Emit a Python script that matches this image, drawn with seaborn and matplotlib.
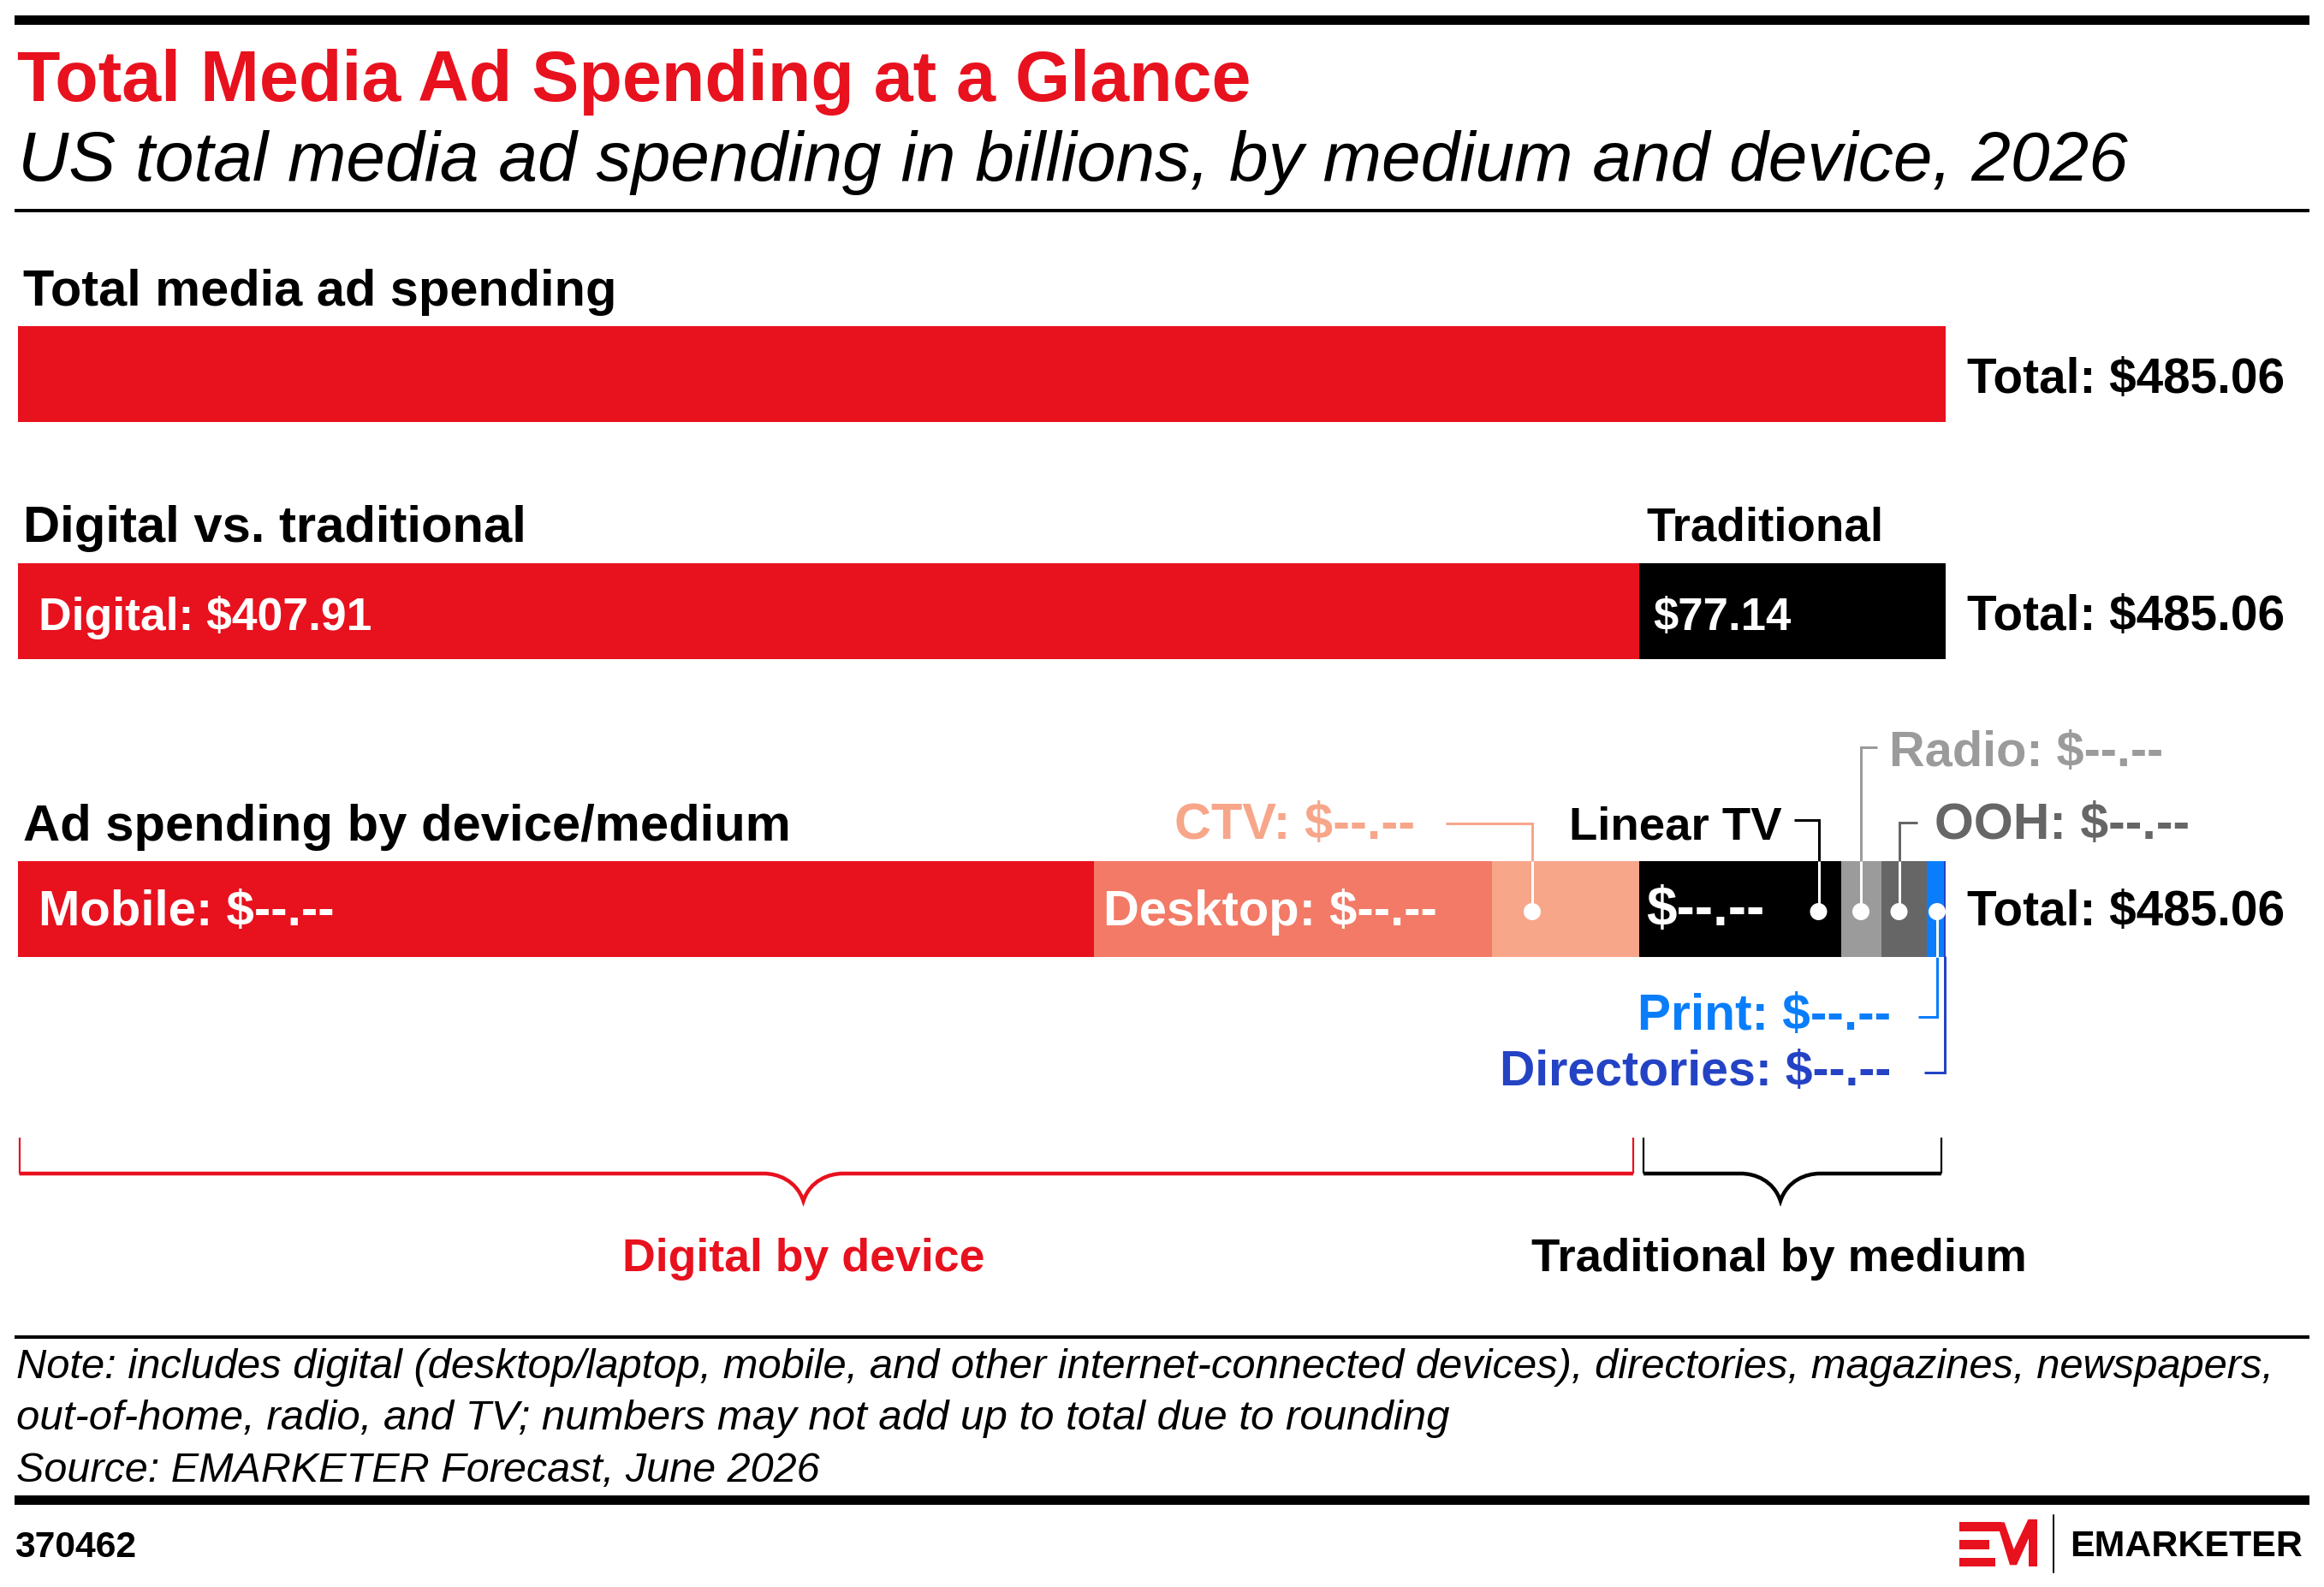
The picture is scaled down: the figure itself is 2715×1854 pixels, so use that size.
import numpy as np
import pandas as pd
import matplotlib
matplotlib.use("Agg")
import matplotlib.pyplot as plt
import seaborn as sns
from matplotlib.patches import Circle, Rectangle, Polygon, PathPatch
from matplotlib.path import Path

# ---------------- DATA ----------------
total_value = 485.06
total_segments = ["Total"]
total_values = [485.06]

dvt_segments = ["Digital", "Traditional"]
dvt_values = [407.91, 77.14]

device_segments = ["Mobile", "Desktop", "CTV", "Linear TV", "Radio", "OOH", "Print", "Directories"]
device_values = [270.75, 100.20, 36.96, 50.90, 10.00, 11.40, 4.40, 0.44]
device_value_text = ["$--.--"] * 8

row_titles = ["Total media ad spending", "Digital vs. traditional", "Ad spending by device/medium"]
title = "Total Media Ad Spending at a Glance"
subtitle = "US total media ad spending in billions, by medium and device, 2026"
note_lines = [
    "Note: includes digital (desktop/laptop, mobile, and other internet-connected devices), directories, magazines, newspapers,",
    "out-of-home, radio, and TV; numbers may not add up to total due to rounding",
    "Source: EMARKETER Forecast, June 2026",
]
chart_id = "370462"

# ---------------- STYLE ----------------
RED = "#E8111E"
seg_colors = {
    "Total": RED, "Digital": RED, "Traditional": "#000000",
    "Mobile": RED, "Desktop": "#F27A66", "CTV": "#F7A68A", "Linear TV": "#000000",
    "Radio": "#9B9B9B", "OOH": "#666666", "Print": "#0A7EFA", "Directories": "#2443C4",
}
label_colors = {"CTV": "#F7A68A", "Linear TV": "#000000", "Radio": "#9B9B9B",
                "OOH": "#666666", "Print": "#0A7EFA", "Directories": "#2443C4"}

sns.set_style("white")
FAM = ["Liberation Sans", "DejaVu Sans"]
plt.rcParams["font.family"] = FAM

W, H, DPI = 2715, 1854, 100
fig = plt.figure(figsize=(W / DPI, H / DPI), dpi=DPI)
fig.patch.set_facecolor("white")

# overlay axes in pixel coordinates (y downward)
ax = fig.add_axes([0, 0, 1, 1])
ax.set_xlim(0, W)
ax.set_ylim(H, 0)
ax.axis("off")
ax.set_zorder(10)
ax.patch.set_alpha(0)

BAR_X0, BAR_X1 = 20.7, 2273.2
rows_px = [(381, 493), (657.7, 770), (1005.7, 1117.7)]


def bar_axes(top, bot):
    a = fig.add_axes([BAR_X0 / W, 1 - bot / H, (BAR_X1 - BAR_X0) / W, (bot - top) / H])
    return a


def stacked_row(a, segs, vals):
    cum = np.cumsum(vals)
    df = pd.DataFrame({"segment": segs, "value": vals, "cum": cum, "row": "r"})
    for i in range(len(df) - 1, -1, -1):
        sns.barplot(data=df.iloc[[i]], x="cum", y="row", orient="h",
                    color=seg_colors[df.segment.iloc[i]], width=1.0, saturation=1,
                    errorbar=None, linewidth=0, edgecolor="none", ax=a)
    a.set_xlim(0, total_value)
    a.set_ylim(0.5, -0.5)
    a.axis("off")


for (t, b), (segs, vals) in zip(rows_px, [(total_segments, total_values),
                                         (dvt_segments, dvt_values),
                                         (device_segments, device_values)]):
    stacked_row(bar_axes(t, b), segs, vals)

# ---------------- rules ----------------
def hrule(y0, y1, x0=17, x1=2698, color="black"):
    ax.add_patch(Rectangle((x0, y0), x1 - x0, y1 - y0, facecolor=color, edgecolor="none"))

hrule(17.5, 28.5)
hrule(244, 247.5)
hrule(1559.5, 1563.5)
hrule(1747, 1758)

# ---------------- text ----------------
to_fit = []


def T(x, y, s, target_w, size=30, color="black", ha="left", bold=True, italic=False, fam=FAM):
    t = ax.text(x, y, s, fontsize=size, color=color, ha=ha, va="baseline",
                fontweight="bold" if bold else "normal",
                fontstyle="italic" if italic else "normal", family=fam)
    if target_w:
        to_fit.append((t, target_w))
    return t


T(19.5, 118, title, 1441, 60, RED)
T(21, 211, subtitle, 2467, 50, bold=False, italic=True)

T(27, 357, row_titles[0], 692, 34)
T(27, 633, row_titles[1], 588, 34)
T(1923.7, 632, "Traditional", 277, 34)
T(27, 982, row_titles[2], 897, 34)

for yb in (459, 736, 1081):
    T(2297.7, yb, f"Total: ${total_value:.2f}", 371, 32)

T(44.8, 736, f"Digital: ${dvt_values[0]:.2f}", 390, 32, "white")
T(1931, 736, f"${dvt_values[1]:.2f}", 161, 32, "white")

T(44.8, 1081, f"{device_segments[0]}: {device_value_text[0]}", 345.6, 32, "white")
T(1289, 1081, f"{device_segments[1]}: {device_value_text[1]}", 390, 32, "white")
T(1923, 1081, device_value_text[3], 138, 32, "white")

T(1372, 980, f"{device_segments[2]}: {device_value_text[2]}", 281, 32, label_colors["CTV"])
T(2082, 980, device_segments[3], 248, 32, label_colors["Linear TV"], ha="right")
T(2207, 895, f"{device_segments[4]}: {device_value_text[4]}", 320, 32, label_colors["Radio"])
T(2260, 980, f"{device_segments[5]}: {device_value_text[5]}", 297.6, 32, label_colors["OOH"])
T(2209.4, 1203, f"{device_segments[6]}: {device_value_text[6]}", 296, 32, label_colors["Print"], ha="right")
T(2209.4, 1268, f"{device_segments[7]}: {device_value_text[7]}", 457.6, 32, label_colors["Directories"], ha="right")

T(939, 1485, "Digital by device", 424, 32, RED, ha="center")
T(2078, 1485, "Traditional by medium", 578, 32, "black", ha="center")

for yb, line, w in zip((1610, 1670, 1731), note_lines, (2637, 1672, 937)):
    T(19, yb, line, w, 22, bold=False, italic=True)

T(17, 1819, chart_id, 142, 22)
T(2418, 1818, "EMARKETER", 272, 24)

# ---------------- leaders ----------------
LW = 3 * 72 / DPI
BAR3_TOP, BAR3_BOT = rows_px[2]
DOT_Y = 1065
leaders = [
    ("CTV", [(1689, 962), (1790, 962), (1790, BAR3_TOP)], 1790),
    ("Linear TV", [(2096, 958), (2124.5, 958), (2124.5, BAR3_TOP)], 2124.5),
    ("Radio", [(2193, 873), (2174, 873), (2174, BAR3_TOP)], 2174),
    ("OOH", [(2240, 961), (2218.5, 961), (2218.5, BAR3_TOP)], 2218.5),
    ("Print", [(2241, 1188), (2263, 1188), (2263, BAR3_BOT)], 2263),
    ("Directories", [(2248, 1253), (2272, 1253), (2272, BAR3_BOT - 1)], None),
]
for name, pts, dx in leaders:
    xs, ys = zip(*pts)
    ax.plot(xs, ys, color=label_colors[name], lw=LW, solid_joinstyle="miter", solid_capstyle="butt")
    if dx is not None:
        edge = pts[-1][1]
        ax.plot([dx, dx], [edge, DOT_Y], color="white", lw=LW, solid_capstyle="butt")
        ax.add_patch(Circle((dx, DOT_Y), 10, facecolor="white", edgecolor="none", zorder=5))

# ---------------- braces ----------------
def brace(x0, x1, xt, color):
    ytop, yh, ytip = 1329, 1371, 1403
    for xv in (x0, x1):
        ax.plot([xv, xv], [ytop, yh], color=color, lw=2.2 * 72 / DPI, solid_capstyle="butt")
    verts = [(x0, yh), (xt - 46, yh), (xt - 30, yh), (xt - 8, yh + 8), (xt, ytip),
             (xt + 8, yh + 8), (xt + 30, yh), (xt + 46, yh), (x1, yh)]
    codes = [Path.MOVETO, Path.LINETO, Path.CURVE4, Path.CURVE4, Path.CURVE4,
             Path.CURVE4, Path.CURVE4, Path.CURVE4, Path.LINETO]
    ax.add_patch(PathPatch(Path(verts, codes), fill=False, edgecolor=color,
                           lw=4.5 * 72 / DPI, joinstyle="miter", capstyle="butt"))

brace(22.5, 1908, 938.5, RED)
brace(1920, 2268, 2080, "black")

# ---------------- logo ----------------
def lz(zx, zy):
    return (2270 + zx / 3, 1760 + zy / 3)

for (zx0, zx1, zy0, zy1) in [(58, 205, 55, 88), (58, 162, 118, 150), (58, 182, 180, 210)]:
    (x0, y0), (x1, y1) = lz(zx0, zy0), lz(zx1, zy1)
    ax.add_patch(Rectangle((x0, y0), x1 - x0, y1 - y0, facecolor=RED, edgecolor="none"))
mpts = [(188, 55), (215, 55), (248, 150), (298, 45), (330, 45), (330, 210),
        (300, 210), (300, 112), (258, 205), (234, 205)]
ax.add_patch(Polygon([lz(*p) for p in mpts], closed=True, facecolor=RED, edgecolor="none"))
ax.plot([2398.5, 2398.5], [1770, 1837], color="black", lw=2 * 72 / DPI)

# ---------------- fit text widths ----------------
fig.canvas.draw()
r = fig.canvas.get_renderer()
for _ in range(3):
    for t, w in to_fit:
        bb = t.get_window_extent(r)
        if bb.width > 0:
            t.set_fontsize(t.get_fontsize() * w / bb.width)
    fig.canvas.draw()

fig.savefig("out.png", dpi=DPI, facecolor="white")
